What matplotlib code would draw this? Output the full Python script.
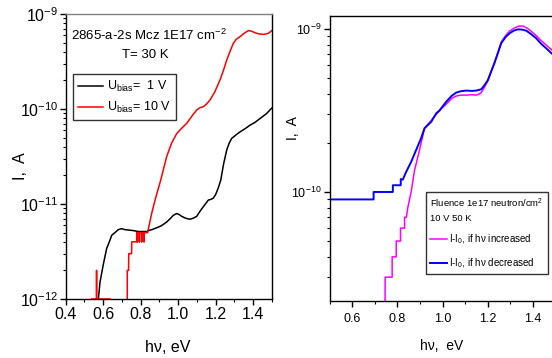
import numpy as np
import matplotlib
matplotlib.use("Agg")
import matplotlib.pyplot as plt
from matplotlib.ticker import FixedLocator, FixedFormatter, LogLocator, NullFormatter, MultipleLocator, FormatStrFormatter

plt.rcParams['font.family'] = ['Liberation Sans', 'DejaVu Sans']
plt.rcParams['mathtext.fontset'] = 'custom'
plt.rcParams['mathtext.rm'] = 'Liberation Sans'
plt.rcParams['mathtext.default'] = 'regular'

# ---------------- Left panel data (T = 30 K) ----------------
x_1v = [0.575, 0.584, 0.601, 0.619, 0.637, 0.646, 0.664, 0.681, 0.699, 0.717,
        0.740, 0.761, 0.788, 0.810, 0.833, 0.841, 0.860, 0.886, 0.910, 0.939,
        0.960, 0.974, 0.992, 1.005, 1.019, 1.040, 1.063, 1.080, 1.099, 1.112,
        1.126, 1.145, 1.161, 1.175, 1.187, 1.200, 1.214, 1.227, 1.242, 1.259,
        1.272, 1.285, 1.310, 1.330, 1.355, 1.383, 1.410, 1.436, 1.470, 1.498]
i_1v = [1.0e-12, 1.51e-12, 2.29e-12, 3.39e-12, 4.17e-12, 4.68e-12, 5.01e-12, 5.37e-12, 5.50e-12, 5.37e-12,
        5.31e-12, 5.25e-12, 5.13e-12, 5.13e-12, 5.13e-12, 5.25e-12, 5.37e-12, 5.62e-12, 5.89e-12, 6.46e-12,
        7.08e-12, 7.59e-12, 7.94e-12, 7.76e-12, 7.41e-12, 7.08e-12, 6.92e-12, 7.08e-12, 7.41e-12, 8.13e-12,
        8.91e-12, 1.0e-11, 1.10e-11, 1.12e-11, 1.15e-11, 1.26e-11, 1.48e-11, 1.78e-11, 2.63e-11, 3.72e-11,
        4.37e-11, 4.90e-11, 5.37e-11, 5.75e-11, 6.17e-11, 6.76e-11, 7.24e-11, 7.94e-11, 8.91e-11, 1.02e-10]

x_10v = [0.540, 0.565, 0.565, 0.566, 0.566, 0.637, 0.680,
         0.729, 0.729, 0.736, 0.737, 0.752, 0.753, 0.779, 0.780,
         0.783, 0.783, 0.783, 0.794, 0.794, 0.794, 0.806, 0.806, 0.806, 0.818, 0.818, 0.818,
         0.838, 0.841, 0.846, 0.859, 0.877, 0.907, 0.939, 0.965, 0.992, 1.020, 1.046, 1.075, 1.099,
         1.117, 1.134, 1.150, 1.170, 1.195, 1.223, 1.240, 1.259, 1.277, 1.294, 1.310, 1.330,
         1.350, 1.374, 1.390, 1.410, 1.430, 1.454, 1.470, 1.480, 1.490, 1.498]
i_10v = [1e-12, 1e-12, 2e-12, 2e-12, 1e-12, 1e-12, np.nan,
         1e-12, 2e-12, 2e-12, 3e-12, 3e-12, 4e-12, 4e-12, 5e-12,
         5e-12, 4e-12, 5e-12, 5e-12, 4e-12, 5e-12, 5e-12, 4e-12, 5e-12, 5e-12, 4e-12, 5e-12,
         5e-12, 5.4e-12, 6.03e-12, 7.94e-12, 1.10e-11, 1.78e-11, 3.16e-11, 4.37e-11, 5.50e-11, 6.31e-11, 7.08e-11, 8.51e-11, 9.77e-11,
         1.035e-10, 1.057e-10, 1.12e-10, 1.245e-10, 1.51e-10, 2.02e-10, 2.51e-10, 3.28e-10, 4.07e-10, 4.91e-10, 5.43e-10, 5.77e-10,
         6.24e-10, 6.68e-10, 6.61e-10, 6.35e-10, 6.17e-10, 6.11e-10, 6.17e-10, 6.27e-10, 6.46e-10, 6.68e-10]

# ---------------- Right panel data (10 V, 50 K) ----------------
x_inc = [0.745, 0.746, 0.777, 0.777, 0.795, 0.795, 0.814, 0.814, 0.832, 0.832, 0.840, 0.846,
         0.854, 0.861, 0.876, 0.898, 0.920, 0.950, 0.972, 1.000, 1.020, 1.040, 1.060, 1.080,
         1.104, 1.130, 1.150, 1.170, 1.185, 1.200, 1.215, 1.229, 1.245, 1.259, 1.278, 1.296,
         1.315, 1.335, 1.355, 1.375, 1.395, 1.414, 1.435, 1.458, 1.480, 1.500]
i_inc = [1e-11, 3e-11, 3e-11, 4e-11, 4e-11, 5e-11, 5e-11, 6e-11, 6e-11, 7e-11, 7e-11, 8e-11,
         9e-11, 1.0e-10, 1.36e-10, 1.81e-10, 2.46e-10, 2.75e-10, 3.0e-10, 3.3e-10, 3.5e-10, 3.75e-10, 3.88e-10, 3.93e-10,
         3.93e-10, 3.95e-10, 3.93e-10, 4.05e-10, 4.4e-10, 4.8e-10, 5.5e-10, 6.2e-10, 7.2e-10, 8.3e-10, 9.1e-10, 9.7e-10,
         1.01e-9, 1.04e-9, 1.045e-9, 1.01e-9, 9.6e-10, 9.1e-10, 8.5e-10, 7.98e-10, 7.5e-10, 7.1e-10]

x_dec = [0.500, 0.695, 0.695, 0.780, 0.780, 0.815, 0.815, 0.824, 0.839, 0.861, 0.883, 0.905,
         0.920, 0.950, 0.972, 0.986, 1.016, 1.040, 1.060, 1.080, 1.104, 1.130, 1.149, 1.171,
         1.185, 1.200, 1.215, 1.229, 1.245, 1.259, 1.278, 1.296, 1.315, 1.332, 1.350, 1.370,
         1.390, 1.414, 1.435, 1.458, 1.481, 1.500]
i_dec = [9e-11, 9e-11, 1.0e-10, 1.0e-10, 1.1e-10, 1.1e-10, 1.2e-10, 1.19e-10, 1.33e-10, 1.53e-10, 1.81e-10, 2.14e-10,
         2.46e-10, 2.70e-10, 3.04e-10, 3.16e-10, 3.58e-10, 3.89e-10, 4.07e-10, 4.15e-10, 4.19e-10, 4.17e-10, 4.19e-10, 4.27e-10,
         4.52e-10, 4.86e-10, 5.50e-10, 6.17e-10, 7.16e-10, 8.17e-10, 8.91e-10, 9.42e-10, 9.77e-10, 9.95e-10, 9.93e-10, 9.77e-10,
         9.33e-10, 8.77e-10, 8.13e-10, 7.62e-10, 7.10e-10, 6.76e-10]

left_yticks = [1e-12, 1e-11, 1e-10, 1e-9]
left_ylabels = [r'$10^{-12}$', r'$10^{-11}$', r'$10^{-10}$', r'$10^{-9}$']
right_yticks = [1e-10, 1e-9]
right_ylabels = [r'$10^{-10}$', r'$10^{-9}$']

W, H = 552, 358
fig = plt.figure(figsize=(W / 100, H / 100), dpi=100)

# ---------------- Left axes ----------------
L0, L1, B0, T0 = 65.5, 272.0, 299.0, 14.0
ax1 = fig.add_axes([L0 / W, (H - B0) / H, (L1 - L0) / W, (B0 - T0) / H])
ax1.plot(x_1v, i_1v, color='black', lw=1.1)
ax1.plot(x_10v, i_10v, color='#ff0000', lw=1.1)
ax1.set_yscale('log')
ax1.set_xlim(0.4, 1.5)
ax1.set_ylim(1e-12, 1e-9)
ax1.yaxis.set_major_locator(FixedLocator(left_yticks))
ax1.yaxis.set_major_formatter(FixedFormatter(left_ylabels))
ax1.yaxis.set_minor_locator(LogLocator(base=10, subs=np.arange(2, 10)))
ax1.yaxis.set_minor_formatter(NullFormatter())
ax1.xaxis.set_major_locator(MultipleLocator(0.2))
ax1.xaxis.set_minor_locator(MultipleLocator(0.1))
ax1.xaxis.set_major_formatter(FormatStrFormatter('%.1f'))
ax1.tick_params(which='major', direction='out', length=4, width=1, labelsize=11.5, pad=2)
ax1.tick_params(which='minor', direction='out', length=2.5, width=0.8)
ax1.tick_params(axis='y', which='major', pad=1)
ax1.spines['top'].set_color('#808080')
for s in ['left', 'bottom', 'right']:
    ax1.spines[s].set_color('black')
for s in ax1.spines.values():
    s.set_linewidth(1.0)
ax1.set_xlabel('hν, eV', fontsize=11.5)
ax1.xaxis.set_label_coords((168 - L0) / (L1 - L0), (B0 - 340) / (B0 - T0))
ax1.set_ylabel('I,  A', fontsize=11.5)
ax1.yaxis.set_label_coords((28 - L0) / (L1 - L0), (B0 - 166) / (B0 - T0))
ax1.text((149 - L0) / (L1 - L0), (B0 - 35) / (B0 - T0), '2865-a-2s Mcz 1E17 cm$^{-2}$',
         transform=ax1.transAxes, ha='center', va='center', fontsize=9.5)
ax1.text((145 - L0) / (L1 - L0), (B0 - 55) / (B0 - T0), 'T= 30 K',
         transform=ax1.transAxes, ha='center', va='center', fontsize=9.5)
leg1 = ax1.legend([r'U$_{\rm bias}$=  1 V', r'U$_{\rm bias}$= 10 V'],
                  loc='upper left', bbox_to_anchor=((73.3 - L0) / (L1 - L0), (B0 - 74) / (B0 - T0)),
                  borderaxespad=0, fontsize=9, frameon=True, fancybox=False,
                  edgecolor='black', handlelength=2.0, handletextpad=0.3,
                  borderpad=0.4, labelspacing=0.5)
leg1.get_frame().set_linewidth(1.0)

# ---------------- Right axes ----------------
R0, RW, RB, RT = 329.5, 226.2, 300.5, 16.0
ax2 = fig.add_axes([R0 / W, (H - RB) / H, RW / W, (RB - RT) / H])
ax2.plot(x_inc, i_inc, color='#ff00ff', lw=1.1, label=r'I-I$_{0}$, if hν increased')
ax2.plot(x_dec, i_dec, color='#0000ff', lw=1.4, label=r'I-I$_{0}$, if hν decreased')
ax2.set_yscale('log')
ax2.set_xlim(0.5, 1.5)
ax2.set_ylim(2.158e-11, 1.202e-9)
ax2.yaxis.set_major_locator(FixedLocator(right_yticks))
ax2.yaxis.set_major_formatter(FixedFormatter(right_ylabels))
ax2.yaxis.set_minor_locator(LogLocator(base=10, subs=np.arange(2, 10)))
ax2.yaxis.set_minor_formatter(NullFormatter())
ax2.xaxis.set_major_locator(MultipleLocator(0.2))
ax2.xaxis.set_minor_locator(MultipleLocator(0.1))
ax2.xaxis.set_major_formatter(FormatStrFormatter('%.1f'))
ax2.tick_params(which='major', direction='out', length=4, width=1, labelsize=9, pad=5)
ax2.tick_params(which='minor', direction='out', length=2.5, width=0.8)
ax2.tick_params(axis='y', which='major', pad=1.5)
for s in ax2.spines.values():
    s.set_color('black')
    s.set_linewidth(1.0)
ax2.set_xlabel('hν,  eV', fontsize=10)
ax2.xaxis.set_label_coords((441.7 - R0) / RW, (RB - 339) / (RB - RT))
ax2.set_ylabel('I,  A', fontsize=10)
ax2.yaxis.set_label_coords((300 - R0) / RW, (RB - 128) / (RB - RT))
leg2 = ax2.legend(loc='upper left',
                  bbox_to_anchor=((425.7 - R0) / RW, (RB - 192.3) / (RB - RT)),
                  borderaxespad=0, frameon=True, fancybox=False, edgecolor='black',
                  title='Fluence 1e17 neutron/cm$^{2}$\n10 V 50 K',
                  alignment='left', handlelength=1.7, handletextpad=0.25,
                  borderpad=0.45, labelspacing=1.0,
                  prop={'size': 7.0},
                  title_fontproperties={'size': 6.8})
leg2.get_title().set_linespacing(1.6)
leg2.get_frame().set_linewidth(1.0)
leg2._legend_box.sep = 7

fig.savefig('out.png', dpi=100)
